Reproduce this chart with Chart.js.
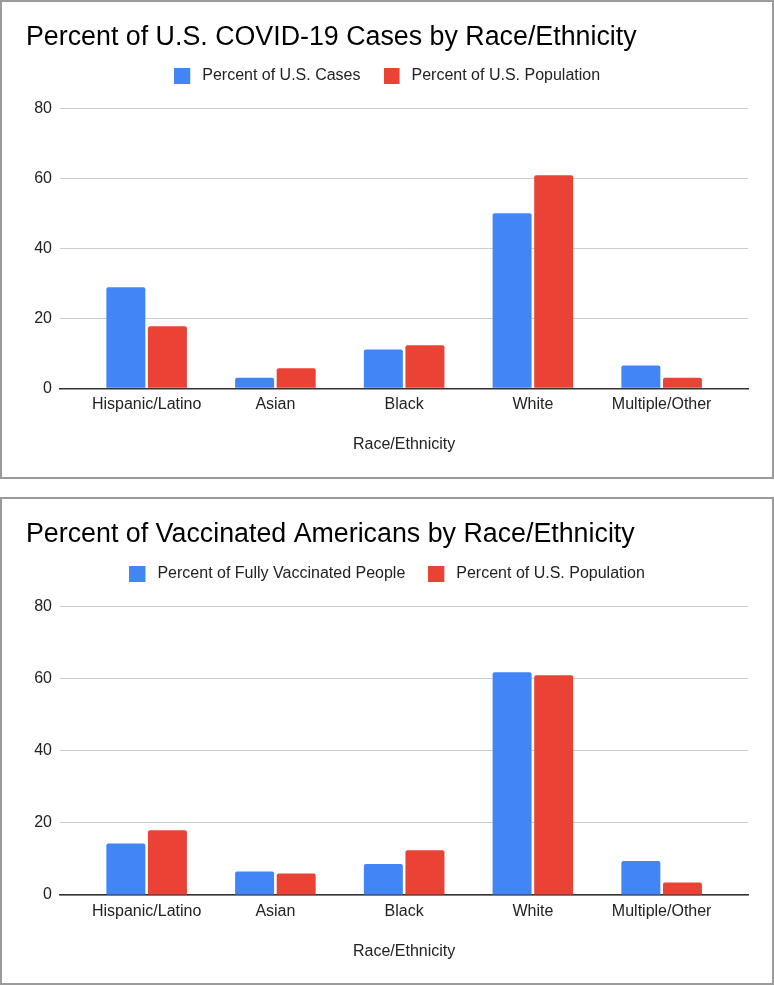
<!DOCTYPE html>
<html><head><meta charset="utf-8">
<script src="https://cdn.jsdelivr.net/npm/chart.js@4.4.0/dist/chart.umd.min.js"></script>
<style>
html,body{margin:0;padding:0;background:#fff;}
.box{position:absolute;left:0;width:770px;border:2px solid #9b9b9b;background:#fff;}
#b1{top:0;height:475px;}
#b2{top:497px;height:484px;}
canvas{display:block;}
</style></head><body>
<div class="box" id="b1"><canvas id="c1" width="770" height="475"></canvas></div>
<div class="box" id="b2"><canvas id="c2" width="770" height="484"></canvas></div>
<script>
const categories = ['Hispanic/Latino', 'Asian', 'Black', 'White', 'Multiple/Other'];
const yTickValues = [0, 20, 40, 60, 80];
const xAxisTitle = 'Race/Ethnicity';

const casesTitle = 'Percent of U.S. COVID-19 Cases by Race/Ethnicity';
const casesSeriesNames = ['Percent of U.S. Cases', 'Percent of U.S. Population'];
const casesShare = [28.9, 3.0, 11.1, 50.0, 6.5];
const casesPopulation = [17.7, 5.7, 12.3, 60.9, 3.0];

const vaccTitle = 'Percent of Vaccinated Americans by Race/Ethnicity';
const vaccSeriesNames = ['Percent of Fully Vaccinated People', 'Percent of U.S. Population'];
const vaccShare = [14.3, 6.5, 8.6, 61.8, 9.4];
const vaccPopulation = [18.0, 6.0, 12.4, 61.0, 3.5];

const FONT = '"Liberation Sans", Arial, Helvetica, sans-serif';
const COLORS = ['#4285f4', '#ea4335'];

// legend swatch: 16x16 square plus 4px transparent gap on its right
function swatch(color) {
  const c = document.createElement('canvas');
  c.width = 20; c.height = 16;
  const g = c.getContext('2d');
  g.fillStyle = color;
  g.fillRect(0, 0, 16, 16);
  return c;
}

function makeChart(id, title, names, s1, s2, L) {
  const tickFont = {family: FONT, size: 16};
  return new Chart(document.getElementById(id), {
    type: 'bar',
    data: {
      datasets: [
        {label: names[0], data: s1.map((v, i) => ({x: i, y: v})), backgroundColor: COLORS[0]},
        {label: names[1], data: s2.map((v, i) => ({x: i, y: v})), backgroundColor: COLORS[1]}
      ]
    },
    options: {
      responsive: false,
      animation: false,
      devicePixelRatio: 1,
      layout: {padding: {top: 0, left: 24, right: 23.7, bottom: L.bottom}},
      datasets: {bar: {categoryPercentage: 0.646, barPercentage: 0.9375, borderRadius: 2, borderSkipped: 'start'}},
      plugins: {
        title: {display: true, text: title, align: 'start', color: '#000',
          font: {family: FONT, size: 26.8, weight: 'normal', lineHeight: 1.2},
          padding: {top: 19.42, bottom: L.titleBottom}},
        legend: {display: true, position: 'top', align: 'center',
          labels: {usePointStyle: true, pointStyleWidth: 20, boxWidth: 16, boxHeight: 16, padding: 23,
            color: '#222', font: {family: FONT, size: 16},
            generateLabels: chart => Chart.defaults.plugins.legend.labels.generateLabels(chart).map((it, i) => {
              it.pointStyle = swatch(COLORS[i]);
              return it;
            })}},
        tooltip: {enabled: false}
      },
      scales: {
        x: {
          type: 'linear', min: -0.673, max: 4.673, bounds: 'data', offset: false,
          grid: {display: false, offset: false, drawTicks: false},
          border: {display: true, color: '#333', width: 1.5},
          afterBuildTicks: s => { s.ticks = categories.map((c, i) => ({value: i})); },
          ticks: {autoSkip: false, maxRotation: 0, padding: 7, color: '#222', font: tickFont,
            callback: v => categories[v]},
          title: {display: true, text: xAxisTitle, color: '#222', font: tickFont, padding: {top: 13.9, bottom: 0}}
        },
        y: {
          min: 0, max: L.ymax, bounds: 'data',
          afterBuildTicks: s => { s.ticks = yTickValues.map(v => ({value: v})); },
          afterFit: s => { s.width = 34; },
          grid: {color: '#cccccc', lineWidth: 1, drawTicks: false},
          border: {display: false},
          ticks: {padding: 8, color: '#222', font: tickFont}
        }
      }
    }
  });
}

makeChart('c1', casesTitle, casesSeriesNames, casesShare, casesPopulation, {titleBottom: -8.58, ymax: 84.09, bottom: 22.4});
makeChart('c2', vaccTitle, vaccSeriesNames, vaccShare, vaccPopulation, {titleBottom: -7.88, ymax: 84.16, bottom: 21.7});
</script>
</body></html>
